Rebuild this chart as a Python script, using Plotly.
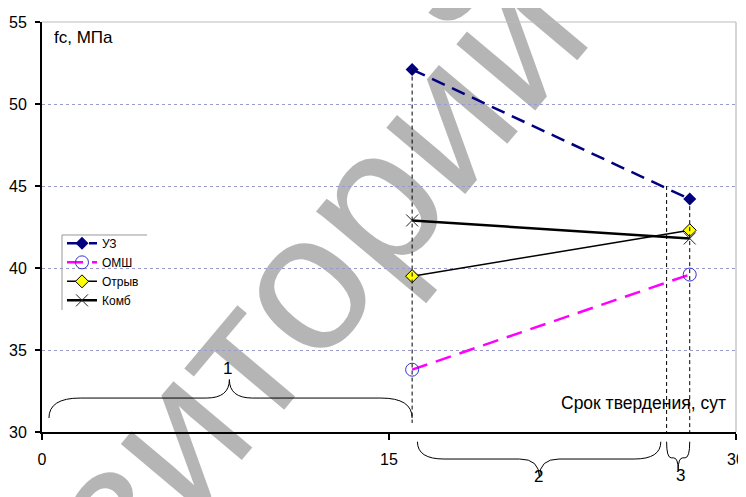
import plotly.graph_objects as go

# ---- data ----
days = [16, 28]
uz = [52.1, 44.2]
omsh = [33.8, 39.6]
otryv = [39.5, 42.3]
komb = [42.9, 41.8]
series_names = ["УЗ", "ОМШ", "Отрыв", "Комб"]
x_ticks = [0, 15, 30]
y_ticks = [30, 35, 40, 45, 50, 55]
stage_bounds = [0.3, 16, 27, 28]
stage_labels = ["1", "2", "3"]
watermark = "репозиторий"

FONT = "Liberation Sans, Arial, sans-serif"

fig = go.Figure()
fig.add_trace(go.Scatter(x=days, y=uz, name=series_names[0], mode="lines+markers",
                         line=dict(color="#000080", width=2.5, dash="14px,8px"),
                         marker=dict(symbol="diamond", size=10, color="#000080")))
fig.add_trace(go.Scatter(x=days, y=omsh, name=series_names[1], mode="lines+markers",
                         line=dict(color="#FF00FF", width=2.5, dash="16px,9px"),
                         marker=dict(symbol="circle-open", size=13, color="#3333CC",
                                     line=dict(width=1, color="#3333CC"))))
fig.add_trace(go.Scatter(x=days, y=otryv, name=series_names[2], mode="lines+markers",
                         line=dict(color="black", width=1.5),
                         marker=dict(symbol="diamond", size=10, color="#FFFF00",
                                     line=dict(width=1, color="black"))))
fig.add_trace(go.Scatter(x=days, y=komb, name=series_names[3], mode="lines+markers",
                         line=dict(color="black", width=2.5),
                         marker=dict(symbol="x-thin", size=12,
                                     line=dict(width=1, color="#222222"))))

shapes = []
# watermark (real text, drawn beneath the data via a below-layer shape label)
WX, WY = 0.172, 0.024
shapes.append(dict(type="rect", xref="paper", yref="paper", x0=WX - 0.01, x1=WX + 0.01,
                   y0=WY - 0.01, y1=WY + 0.01,
                   line=dict(width=0), fillcolor="rgba(0,0,0,0)", layer="below",
                   label=dict(text=watermark, textangle=-50, textposition="middle center",
                              font=dict(size=195, color="rgba(0,0,0,0.29)", family=FONT))))

# legend box: white background (above grid, below traces) with grey top/left edges
LX0, LX1, LY0, LY1 = 0.0288, 0.1513, 0.2976, 0.4805
shapes.append(dict(type="rect", xref="paper", yref="paper", x0=LX0, x1=LX1, y0=LY0, y1=LY1,
                   fillcolor="white", line=dict(width=0), layer="below"))
shapes.append(dict(type="line", xref="paper", yref="paper", x0=LX0, x1=LX1, y0=LY1, y1=LY1,
                   line=dict(color="#999999", width=1)))
shapes.append(dict(type="line", xref="paper", yref="paper", x0=LX0, x1=LX0, y0=LY0, y1=LY1,
                   line=dict(color="#999999", width=1)))

# vertical dashed guide lines
guide = dict(type="line", xref="x", line=dict(color="black", width=1, dash="4px,3px"))
shapes.append(dict(guide, x0=days[0], x1=days[0], yref="y", y0=uz[0], y1=30.55))
shapes.append(dict(guide, x0=stage_bounds[2], x1=stage_bounds[2], yref="y", y0=45, y1=30))
shapes.append(dict(guide, x0=days[1], x1=days[1], yref="y", y0=uz[1], y1=30))


def brace(x0, x1, xm, y_end, y_mid, y_tip, r_end, r_mid):
    return (f"M {x0},{y_end} Q {x0},{y_mid} {x0 + r_end},{y_mid} "
            f"L {xm - r_mid},{y_mid} Q {xm},{y_mid} {xm},{y_tip} "
            f"Q {xm},{y_mid} {xm + r_mid},{y_mid} "
            f"L {x1 - r_end},{y_mid} Q {x1},{y_mid} {x1},{y_end}")

bline = dict(color="black", width=1)
shapes.append(dict(type="path", xref="x", yref="y", line=bline,
                   path=brace(stage_bounds[0], stage_bounds[1], 8.1, 30.85, 32.07, 33.2, 1.35, 1.0)))
shapes.append(dict(type="path", xref="x", yref="paper", line=bline,
                   path=brace(16.23, 26.75, 21.5, -0.0237, -0.0659, -0.11, 1.15, 0.85)))
shapes.append(dict(type="path", xref="x", yref="paper", line=bline,
                   path=brace(stage_bounds[2], stage_bounds[3], 27.5, -0.0237, -0.063, -0.093, 0.2, 0.2)))

# plot border top/right (grey)
shapes.append(dict(type="line", xref="paper", yref="paper", x0=0, x1=1, y0=1, y1=1,
                   line=dict(color="#BBBBBB", width=1.2)))
shapes.append(dict(type="line", xref="paper", yref="paper", x0=1, x1=1, y0=0, y1=1,
                   line=dict(color="#BBBBBB", width=1.2)))

annotations = [
    dict(text="fc, МПа", xref="paper", yref="paper", x=0.0144, y=0.963, xanchor="left",
         yanchor="middle", showarrow=False, font=dict(size=17, color="black", family=FONT)),
    dict(text="Срок твердения, сут", xref="paper", yref="paper", x=0.9885, y=0.0707,
         xanchor="right", yanchor="middle", showarrow=False,
         font=dict(size=17.5, color="black", family=FONT)),
    dict(text=stage_labels[0], xref="x", yref="y", x=8.0, y=33.9, showarrow=False,
         font=dict(size=17, color="black", family=FONT)),
    dict(text=stage_labels[1], xref="x", yref="paper", x=21.45, y=-0.137, showarrow=False,
         font=dict(size=17, color="black", family=FONT)),
    dict(text=stage_labels[2], xref="x", yref="paper", x=27.58, y=-0.134, showarrow=False,
         font=dict(size=17, color="black", family=FONT)),
]

# page body adds an 8px margin: shrink the figure and shift margins to compensate
fig.update_layout(
    width=738, height=489,
    margin=dict(l=34, r=10, t=14, b=65, autoexpand=False),
    paper_bgcolor="white", plot_bgcolor="white",
    font=dict(family=FONT, size=16, color="black"),
    showlegend=True,
    legend=dict(x=LX0, y=LY1 + 0.015, xanchor="left", yanchor="top",
                bgcolor="rgba(0,0,0,0)", borderwidth=0,
                font=dict(size=12, family=FONT, color="black"),
                tracegroupgap=0, itemwidth=30),
    shapes=shapes,
    annotations=annotations,
)
fig.update_xaxes(range=[0, 30], tickvals=x_ticks, ticks="outside", ticklen=6, tickwidth=1.5,
                 tickcolor="black", showline=True, linecolor="black", linewidth=2,
                 showgrid=False, zeroline=False, ticklabelstandoff=6,
                 tickfont=dict(size=16, family=FONT))
fig.update_yaxes(range=[30, 55], tickvals=y_ticks, ticks="outside", ticklen=5, tickwidth=1.5,
                 tickcolor="black", showline=True, linecolor="black", linewidth=2,
                 showgrid=True, gridcolor="#9A9ACD", griddash="dot", gridwidth=1,
                 zeroline=False, ticklabelstandoff=5,
                 tickfont=dict(size=16, family=FONT))

fig.write_html("out.html")
